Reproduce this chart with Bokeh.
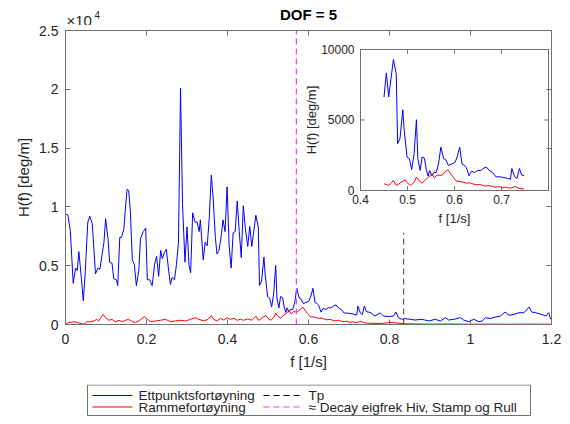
import math
from bokeh.plotting import figure
from bokeh.layouts import column
from bokeh.models import Range1d, LinearAxis, FixedTicker
from bokeh.embed import file_html
from bokeh.resources import INLINE
from bokeh.core.properties import value

# ---------------- data ----------------
f_blue = [0.000, 0.006, 0.012, 0.019, 0.025, 0.029, 0.033, 0.039, 0.044, 0.049,
          0.055, 0.060, 0.066, 0.070, 0.074, 0.080, 0.085, 0.091, 0.095, 0.099,
          0.105, 0.109, 0.115, 0.119, 0.126, 0.129, 0.134, 0.138, 0.144, 0.148,
          0.152, 0.156, 0.160, 0.165, 0.170, 0.175, 0.181, 0.185, 0.192, 0.198,
          0.202, 0.208, 0.214, 0.220, 0.225, 0.230, 0.235, 0.239, 0.244, 0.249,
          0.254, 0.259, 0.263, 0.269, 0.274, 0.279, 0.284, 0.289, 0.295, 0.300,
          0.305, 0.309, 0.314, 0.320, 0.325, 0.330, 0.333, 0.340, 0.345, 0.350,
          0.355, 0.360, 0.365, 0.370, 0.374, 0.379, 0.384, 0.389, 0.394, 0.399,
          0.404, 0.409, 0.414, 0.419, 0.424, 0.429, 0.434, 0.439, 0.444,
          0.450, 0.455, 0.460, 0.470, 0.476, 0.479, 0.484, 0.490, 0.493, 0.499,
          0.504, 0.509, 0.514, 0.519, 0.522, 0.527, 0.531, 0.536, 0.540, 0.544,
          0.547, 0.552, 0.556, 0.561, 0.566, 0.571, 0.577, 0.581, 0.587, 0.594,
          0.601, 0.606, 0.611, 0.616, 0.620, 0.625, 0.631, 0.636, 0.643, 0.649,
          0.656, 0.663, 0.668, 0.674, 0.681, 0.688, 0.696, 0.705, 0.712, 0.719,
          0.722, 0.728, 0.733, 0.738, 0.743, 0.748,
          0.754, 0.764, 0.777, 0.785, 0.797, 0.810, 0.816, 0.822, 0.830, 0.839,
          0.851, 0.863, 0.880, 0.897, 0.913, 0.926, 0.938, 0.946, 0.959, 0.975,
          0.983, 0.996, 1.008, 1.021, 1.029, 1.037, 1.049, 1.062, 1.074, 1.085,
          1.095, 1.108, 1.120, 1.132, 1.145, 1.151, 1.161, 1.174, 1.186, 1.193,
          1.198]
h_blue = [9400, 9300, 7900, 3500, 4800, 4600, 6200, 4000, 2000, 4600,
          8700, 9200, 8600, 6500, 4300, 4800, 4700, 6100, 7000, 9000,
          7300, 5300, 5200, 3900, 3800, 3300, 7400, 7400, 8100, 9900,
          11500, 11400, 9700, 5500, 5100, 3300, 4600, 7300, 7900, 8200,
          3800, 3800, 3300, 5100, 5800, 4100, 6300, 5600, 6100, 6400,
          4800, 3400, 4000, 3800, 5100, 7000, 20100, 10200, 5300, 8300,
          5000, 4400, 9500, 8700, 8700, 7900, 8900, 5500, 7000, 6700,
          9100, 12700, 10500, 7400, 6000, 6300, 7400, 8900, 7900, 11700,
          6700, 4800, 7800, 7900, 10500, 7900, 5700, 10100, 8200,
          6630, 8340, 6630, 9290, 8270, 3320, 3680, 5730, 4260, 2370,
          2250, 1490, 2600, 5020, 2250, 1420, 2370, 2300, 1470, 1020,
          1420, 1050, 1280, 1280, 1880, 3080, 2250, 2200, 1780, 1880,
          1990, 2420, 3080, 1880, 1810, 1640, 1050, 1360, 1280, 1420,
          1420, 1610, 1660, 1420, 1280, 970, 970, 920, 870, 800,
          1560, 970, 850, 1560, 1090, 1060,
          1000, 720, 1000, 720, 670, 720, 1060, 580, 440, 500,
          440, 380, 440, 300, 440, 300, 580, 380, 440, 580,
          380, 240, 440, 240, 300, 580, 500, 640, 720, 1060,
          780, 870, 1000, 1000, 1490, 1060, 1000, 870, 720, 1000,
          440]

f_red = [0.000, 0.008, 0.021, 0.033, 0.045, 0.053, 0.062, 0.070, 0.077, 0.082,
         0.086, 0.093, 0.099, 0.107, 0.115, 0.123, 0.132, 0.140, 0.148, 0.156,
         0.165, 0.173, 0.181, 0.189, 0.195, 0.202, 0.210, 0.222, 0.235, 0.247,
         0.259, 0.272, 0.284, 0.296, 0.309, 0.321, 0.329, 0.342, 0.352, 0.360,
         0.366, 0.374, 0.383, 0.391, 0.399, 0.407, 0.416, 0.424, 0.432, 0.440,
         0.450, 0.455, 0.460, 0.465, 0.470, 0.476, 0.481, 0.486, 0.495, 0.500,
         0.507, 0.514, 0.519, 0.524, 0.531, 0.538, 0.545, 0.552, 0.557, 0.563,
         0.568, 0.573, 0.580, 0.586, 0.592, 0.597, 0.604, 0.611, 0.618, 0.625,
         0.632, 0.639, 0.646, 0.653, 0.660, 0.667, 0.674, 0.681, 0.688, 0.695,
         0.702, 0.709, 0.716, 0.722, 0.729, 0.736, 0.743, 0.748,
         0.760, 0.780, 0.800, 0.820, 0.840, 0.870, 0.900, 0.950, 1.000, 1.050,
         1.100, 1.150, 1.200]
h_red = [20, 160, 240, 130, 20, 240, 240, 300, 440, 300,
         520, 860, 580, 360, 440, 210, 360, 240, 360, 440,
         240, 160, 300, 520, 670, 440, 240, 300, 360, 440,
         240, 300, 360, 300, 440, 580, 440, 300, 440, 750,
         440, 300, 520, 360, 580, 440, 520, 360, 440, 360,
         470, 430, 360, 520, 710, 360, 430, 590, 760, 520,
         360, 590, 950, 710, 520, 760, 950, 1190, 900, 1090,
         1070, 1090, 1300, 1470, 1190, 950, 660, 640, 590, 520,
         550, 470, 400, 430, 360, 310, 360, 280, 240, 280,
         190, 240, 170, 190, 280, 170, 120, 110,
         100, 80, 180, 120, 60, 40, 30, 40, 20, 30,
         20, 30, 20]

f_decay = 0.570      # ≈ decay eigenfrequency line
f_tp = 0.835         # Tp line
tp_top = 7800

x_ticks = [0, 0.2, 0.4, 0.6, 0.8, 1.0, 1.2]
x_tick_labels = ["0", "0.2", "0.4", "0.6", "0.8", "1", "1.2"]
y_ticks = [0, 5000, 10000, 15000, 20000, 25000]
y_tick_labels = ["0", "0.5", "1", "1.5", "2", "2.5"]

inset_fmin, inset_fmax = 0.449, 0.749
inset_x_ticks = [0.4, 0.5, 0.6, 0.7]
inset_x_labels = ["0.4", "0.5", "0.6", "0.7"]
inset_y_ticks = [0, 5000, 10000]
inset_y_labels = ["0", "5000", "10000"]

legend_labels = ["Ettpunktsfortøyning", "Rammefortøyning", "Tp",
                 "≈ Decay eigfrek Hiv, Stamp og Rull"]

# ---------------- style ----------------
FONT = "Liberation Sans"
AX = "#262626"
AXL = "#707070"
BLUE = "#0000ff"
RED = "#ff0000"
MAG = "#ff33ff"
TPC = "#404040"
W = 570
ML, MR = 65, 19

xr = Range1d(0, 1.2)

# ---------------- header (title + exponent) ----------------
HH = 25
hdr = figure(width=W, height=HH, x_range=xr, y_range=Range1d(0, HH),
             output_backend="svg", toolbar_location=None,
             x_axis_location=None, y_axis_location=None,
             min_border_left=ML, min_border_right=MR, min_border_top=0, min_border_bottom=0)
hdr.xgrid.visible = False
hdr.ygrid.visible = False
hdr.outline_line_color = None
hdr.text(x=[0.6], y=[11], text=["DOF = 5"], text_align="center", text_baseline="middle",
         text_font=value(FONT), text_font_size="15px", text_font_style="bold", text_color="black")
hdr.text(x=[0], y=[5], text=["×10"], text_align="left", text_baseline="middle",
         x_offset=1, text_font=value(FONT), text_font_size="15px", text_color=AX)
hdr.text(x=[0], y=[11], text=["4"], text_align="left", text_baseline="middle",
         x_offset=29, text_font=value(FONT), text_font_size="10px", text_color=AX)

# ---------------- main plot ----------------
PH = 359
p = figure(width=W, height=PH, x_range=xr, y_range=Range1d(0, 25000),
           output_backend="svg", toolbar_location=None,
           min_border_left=ML, min_border_right=MR, min_border_top=5, min_border_bottom=60)
p.xgrid.visible = False
p.ygrid.visible = False
p.outline_line_color = AXL
p.background_fill_color = "white"
p.border_fill_color = "white"

def style_axis(ax, ticks, labels, show_labels=True):
    ax.ticker = FixedTicker(ticks=ticks)
    ax.major_label_overrides = {t: l for t, l in zip(ticks, labels)}
    ax.major_tick_in = 5
    ax.major_tick_out = 0
    ax.minor_tick_line_color = None
    ax.axis_line_color = AXL
    ax.major_tick_line_color = AXL
    ax.major_label_text_font = FONT
    ax.major_label_text_color = AX
    ax.axis_label_text_font = FONT
    ax.axis_label_text_color = AX
    ax.axis_label_text_font_style = "normal"
    if show_labels:
        ax.major_label_text_font_size = "14px"
        ax.axis_label_text_font_size = "15px"
    else:
        ax.major_label_text_font_size = "0px"
        ax.major_label_standoff = 0

style_axis(p.xaxis[0], x_ticks, x_tick_labels)
style_axis(p.yaxis[0], y_ticks, y_tick_labels)
p.xaxis[0].axis_label = "f [1/s]"
p.yaxis[0].axis_label = "H(f) [deg/m]"
p.xaxis[0].major_label_standoff = 9
p.xaxis[0].axis_label_standoff = 6
p.yaxis[0].major_label_standoff = 7
p.yaxis[0].axis_label_standoff = 4

top_ax = LinearAxis()
right_ax = LinearAxis()
style_axis(top_ax, x_ticks, x_tick_labels, show_labels=False)
style_axis(right_ax, y_ticks, y_tick_labels, show_labels=False)
p.add_layout(top_ax, "above")
p.add_layout(right_ax, "right")

p.line(f_blue, h_blue, line_color=BLUE, line_width=1)
p.line(f_red, h_red, line_color=RED, line_width=1)
p.line([f_tp, f_tp], [0, tp_top], line_color=TPC, line_width=1, line_dash="6 4")
p.line([f_decay, f_decay], [0, 25000], line_color=MAG, line_width=1.2, line_dash="6 4")

# ---------------- inset ----------------
ix0, ix1 = 0.4, 0.8
iy0, iy1 = 0, 10000
sub = p.subplot(x_source=Range1d(ix0, ix1), y_source=Range1d(iy0, iy1),
                x_target=Range1d(0.7284, 1.1926), y_target=Range1d(11395, 23384))
sub.quad(left=ix0, right=ix1, bottom=iy0, top=iy1, fill_color="white",
         line_color=AXL, line_width=1)
fb_in = [f for f in f_blue if inset_fmin <= f <= inset_fmax]
hb_in = [h for f, h in zip(f_blue, h_blue) if inset_fmin <= f <= inset_fmax]
fr_in = [f for f in f_red if inset_fmin <= f <= inset_fmax]
hr_in = [h for f, h in zip(f_red, h_red) if inset_fmin <= f <= inset_fmax]
sub.line(fb_in, hb_in, line_color=BLUE, line_width=1)
sub.line(fr_in, hr_in, line_color=RED, line_width=1)

tx = (ix1 - ix0) * 0.022
ty = (iy1 - iy0) * 0.03
sub.segment(x0=inset_x_ticks, y0=[iy0] * 4, x1=inset_x_ticks, y1=[iy0 + ty] * 4, line_color=AXL)
sub.segment(x0=inset_x_ticks, y0=[iy1] * 4, x1=inset_x_ticks, y1=[iy1 - ty] * 4, line_color=AXL)
sub.segment(x0=[ix0] * 3, y0=inset_y_ticks, x1=[ix0 + tx] * 3, y1=inset_y_ticks, line_color=AXL)
sub.segment(x0=[ix1] * 3, y0=inset_y_ticks, x1=[ix1 - tx] * 3, y1=inset_y_ticks, line_color=AXL)

sub.text(x=inset_x_ticks, y=[iy0] * 4, text=inset_x_labels, text_align="center",
         text_baseline="top", y_offset=5, text_font=value(FONT), text_font_size="12px",
         text_color=AX)
sub.text(x=[ix0] * 3, y=inset_y_ticks, text=inset_y_labels, text_align="right",
         text_baseline="middle", x_offset=-6, text_font=value(FONT), text_font_size="12px",
         text_color=AX)
sub.text(x=[(ix0 + ix1) / 2], y=[iy0], text=["f [1/s]"], text_align="center",
         text_baseline="top", y_offset=21, text_font=value(FONT), text_font_size="13px",
         text_color=AX)
sub.text(x=[ix0], y=[(iy0 + iy1) / 2], text=["H(f) [deg/m]"], angle=math.pi / 2,
         text_align="center", text_baseline="bottom", x_offset=-42, text_font=value(FONT),
         text_font_size="13px", text_color=AX)

# ---------------- legend strip (drawn as a key box) ----------------
# its frame is aligned with the main frame (x = 65..551 px), so map pixels 1:1
LH = 424 - HH - PH
lf = figure(width=W, height=LH, x_range=Range1d(ML, W - MR), y_range=Range1d(0, LH),
            output_backend="svg", toolbar_location=None,
            x_axis_location=None, y_axis_location=None,
            min_border_left=ML, min_border_right=MR, min_border_top=0, min_border_bottom=0)
lf.xgrid.visible = False
lf.ygrid.visible = False
lf.outline_line_color = None
box_l, box_r, box_b, box_t = 87, 530, LH - 31, LH - 0.5
row1, row2 = LH - 11, LH - 22.5
col1_x0, col1_x1, col1_tx = 92, 132, 138
col2_x0, col2_x1, col2_tx = 263, 302, 308
lf.quad(left=box_l, right=box_r, bottom=box_b, top=box_t, fill_color="white",
        line_color=AXL, line_width=1)
lf.line(x=[col1_x0, col1_x1], y=[row1, row1], line_color=BLUE, line_width=1)
lf.line(x=[col1_x0, col1_x1], y=[row2, row2], line_color=RED, line_width=1)
lf.line(x=[col2_x0, col2_x1], y=[row1, row1], line_color="black",
        line_width=1, line_dash="6 4")
lf.line(x=[col2_x0, col2_x1], y=[row2, row2], line_color=MAG,
        line_width=1.2, line_dash="6 4")
lf.text(x=[col1_tx, col1_tx, col2_tx, col2_tx], y=[row1, row2, row1, row2],
        text=legend_labels, text_align="left", text_baseline="middle",
        text_font=value(FONT), text_font_size="13.5px", text_color=AX)

layout = column(hdr, p, lf, spacing=0)
open("out.html", "w").write(file_html(layout, INLINE))
